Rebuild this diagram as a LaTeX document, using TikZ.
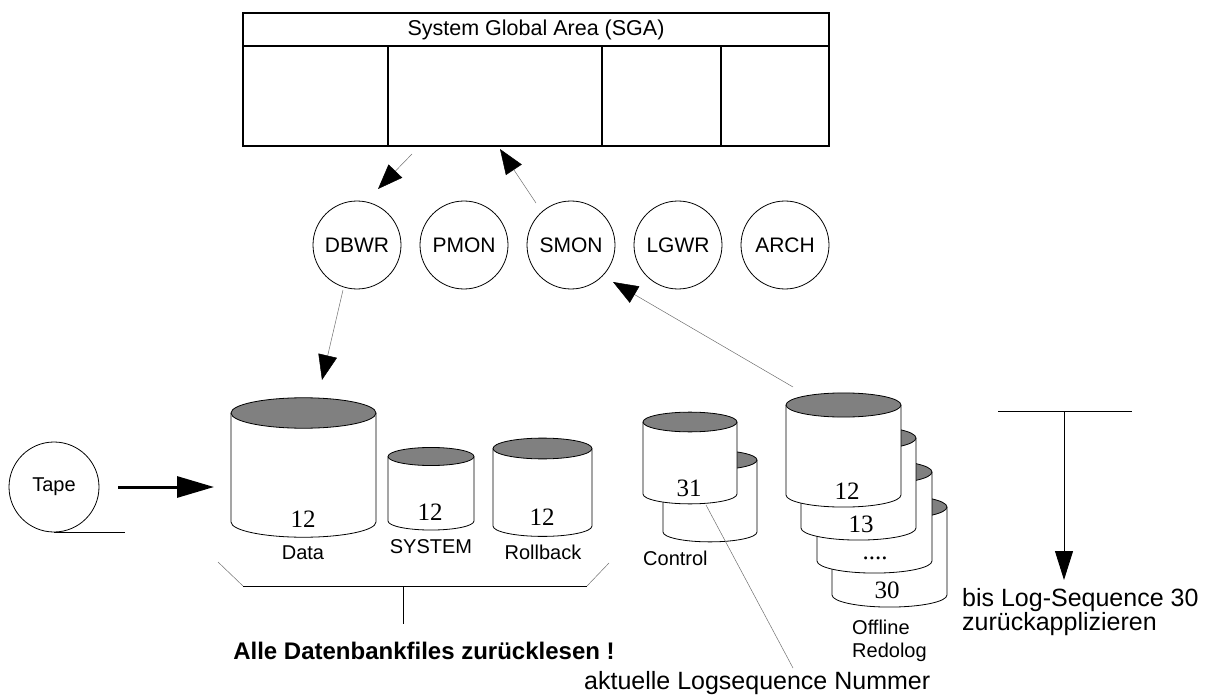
\documentclass[tikz,border=0pt]{standalone}
\usepackage{fontspec}
\setmainfont{Liberation Serif}
\setsansfont{Liberation Sans}
\usetikzlibrary{arrows.meta, calc, positioning}
\definecolor{capGrey}{HTML}{808080}
\definecolor{lineGrey}{HTML}{707070}

% disk drawn as a cylinder: name, centre x, top y, bottom y, radius
\newcommand{\disk}[5]{%
  \pgfmathsetmacro{\dry}{0.21*#5}
  \fill[white] (#2-#5,#3) rectangle (#2+#5,#4);
  \fill[white] (#2,#4) ellipse[x radius=#5, y radius=\dry];
  \draw[line width=0.8pt] (#2-#5,#3) -- (#2-#5,#4)
    arc[start angle=180, end angle=360, x radius=#5pt, y radius=\dry pt] -- (#2+#5,#3);
  \draw[line width=0.8pt, fill=capGrey] (#2,#3) ellipse[x radius=#5, y radius=\dry];
  \coordinate (#1) at (#2,#4);
}

\tikzset{
  proc/.style={circle, draw, line width=0.8pt, minimum size=88pt, inner sep=0pt,
               font=\sffamily\fontsize{21}{23}\selectfont},
  lbl/.style={font=\sffamily\fontsize{20}{23}\selectfont, inner sep=0pt},
  num/.style={font=\fontsize{25}{27}\selectfont, inner sep=0pt},
  note/.style={font=\sffamily\fontsize{25}{23}\selectfont, inner sep=0pt},
  flow/.style={draw=lineGrey, line width=0.5pt, -{Triangle[length=25pt, width=19pt, color=black]}},
}

\begin{document}
\begin{tikzpicture}[x=1pt, y=-1pt]
  \useasboundingbox (0,0) rectangle (1205,695);

  % SGA
  \draw[line width=1.6pt] (243,13) rectangle (829,146);
  \draw[line width=1.6pt] (243,46) -- (829,46);
  \foreach \x in {388,602,721}
    \draw[line width=1.6pt] (\x,46) -- (\x,146);
  \node[font=\sffamily\fontsize{21.5}{23}\selectfont, inner sep=0pt] (sga) at (536,29.5) {System Global Area (SGA)};

  % background processes
  \foreach \nm/\x in {DBWR/357, PMON/464, SMON/571, LGWR/678, ARCH/785}
    \node[proc] (\nm) at (\x,245) {\nm};

  % tape
  \node[proc, minimum size=90pt, font=\sffamily\fontsize{20}{23}\selectfont] (tape) at (54,487) {Tape};
  \draw[line width=0.8pt] (tape.south) -- ++(71,0);

  % data files
  \disk{data}{303.5}{413}{522}{72.5}
  \disk{system}{431}{456.5}{521}{43}
  \disk{rbs}{542.5}{448.5}{526}{49.5}
  \node[num] (dataNr) at (303,519) {12};
  \node[num] (systemNr) at (430,512) {12};
  \node[num] (rbsNr) at (542,517) {12};
  \node[lbl] (dataLbl) at (303,553) {Data};
  \node[lbl] (systemLbl) at (431,547) {SYSTEM};
  \node[lbl] (rbsLbl) at (543,552) {Rollback};

  % control files
  \disk{ctlBack}{710}{460}{532}{47}
  \disk{ctlFront}{690}{422}{494}{47}
  \node[num] (ctlNr) at (689,488) {31};
  \node[lbl, anchor=west] (ctlLbl) at (643,558) {Control};

  % offline redologs, back to front
  \disk{redo30}{889.5}{507}{595}{57.5}
  \disk{redoDots}{874.5}{472}{561}{57.5}
  \disk{redo13}{858.5}{438}{528}{57.5}
  \disk{redo12}{843.5}{405}{495}{57.5}
  \node[num] (redo12Nr) at (847,491) {12};
  \node[num] (redo13Nr) at (861,524) {13};
  \node[num] (redoDotsNr) at (875,558) {....};
  \node[num] (redo30Nr) at (887,590) {30};
  \node[lbl, anchor=north west, align=left] (redoLbl) at (852,620) {Offline\\Redolog};

  % connectors
  \coordinate (sgaOut) at (412,154);
  \coordinate (dbwrIn) at (378,189);
  \coordinate (smonOut) at (536,203);
  \coordinate (sgaIn) at (500,149);
  \coordinate (dbwrOut) at (343,290);
  \coordinate (dataIn) at (322,380);
  \coordinate (redoOut) at (793,387);
  \coordinate (smonIn) at (613,282);
  \draw[flow] (sgaOut) -- (dbwrIn);
  \draw[flow] (smonOut) -- (sgaIn);
  \draw[flow] (dbwrOut) -- (dataIn);
  \draw[flow] (redoOut) -- (smonIn);
  \coordinate (tapeOut) at (118,487);
  \coordinate (dataLeft) at (214,487);
  \draw[line width=3pt, -{Triangle[length=37pt, width=21pt]}] (tapeOut) -- (dataLeft);

  % restore bracket
  \draw[lineGrey, line width=0.5pt] (218,562) -- (243,586);
  \draw[line width=1pt] (243,586) -- (587,586);
  \draw[lineGrey, line width=0.5pt] (587,586) -- (609,563);
  \draw[line width=1pt] (403,586) -- (403,624);
  \node[note, font=\sffamily\bfseries\fontsize{24}{25}\selectfont] (restore) at (424,651) {Alle Datenbankfiles zurücklesen !};

  % current log sequence
  \coordinate (seqEnd) at (793,668);
  \draw[lineGrey, line width=0.5pt] ($(ctlFront)+(16,11)$) -- (seqEnd);
  \node[note, anchor=base west] (seqNote) at (584,689) {aktuelle Logsequence Nummer};

  % recovery up to sequence 30
  \coordinate (tBarL) at (998,411);
  \coordinate (tBarR) at (1132,411);
  \coordinate (tBarM) at (1064,411);
  \coordinate (tTip) at (1064,580);
  \draw[line width=0.9pt] (tBarL) -- (tBarR);
  \draw[line width=0.9pt, -{Triangle[length=29pt, width=18pt]}] (tBarM) -- (tTip);
  \node[note, anchor=north west, align=left] (applyNote) at (962,588) {bis Log-Sequence 30\\zurückapplizieren};
\end{tikzpicture}
\end{document}
